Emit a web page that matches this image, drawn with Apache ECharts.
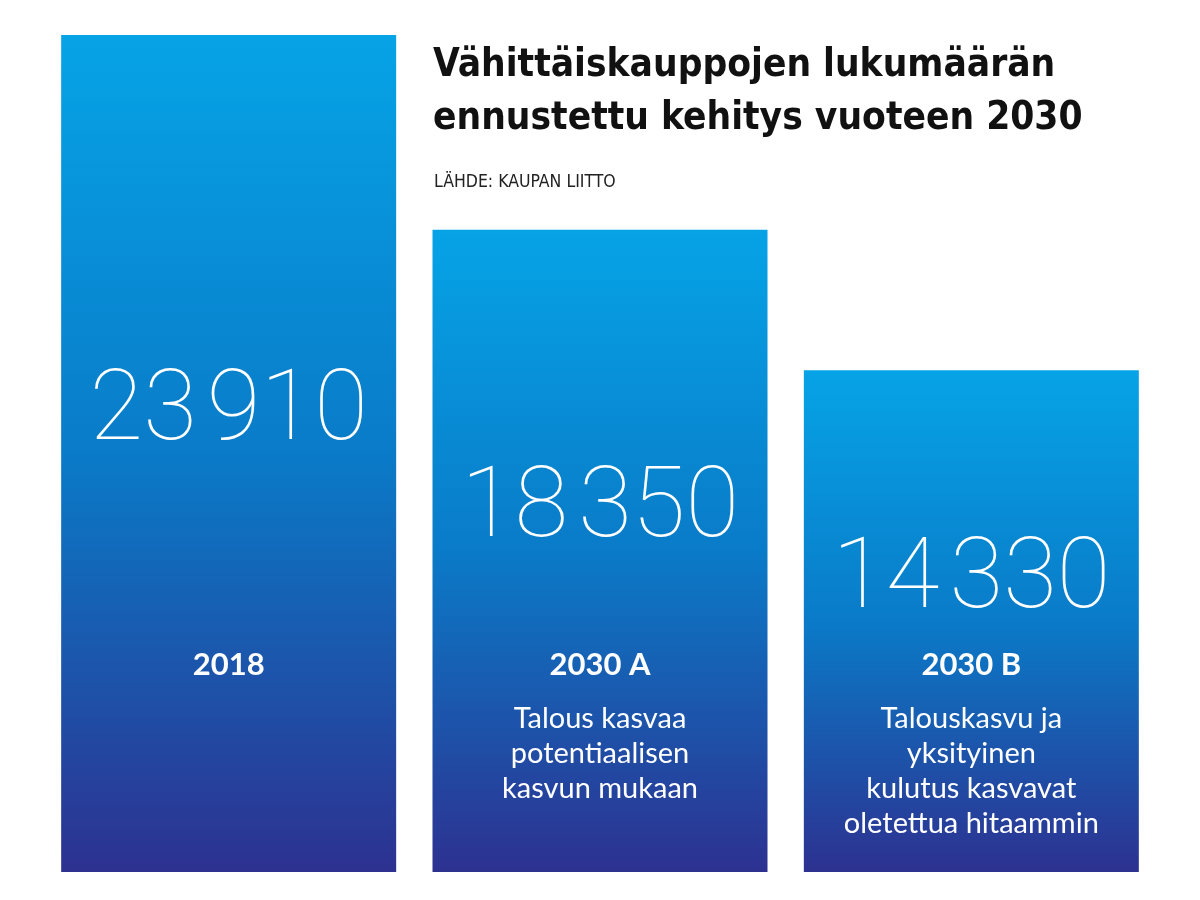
<!DOCTYPE html>
<html><head><meta charset="utf-8">
<script src="https://cdn.jsdelivr.net/npm/echarts@6/dist/echarts.min.js"></script>
<style>html,body{margin:0;padding:0;background:#fff}#c{width:1200px;height:900px}</style>
</head><body><div id="c"></div>
<script>
const categories = ['2018', '2030 A', '2030 B'];
const descriptions = ['', 'Talous kasvaa\npotentiaalisen\nkasvun mukaan', 'Talouskasvu ja\nyksityinen\nkulutus kasvavat\noletettua hitaammin'];
const values = [23910, 18350, 14330];
const titleText = 'Vähittäiskauppojen lukumäärän\nennustettu kehitys vuoteen 2030';
const sourceText = 'LÄHDE: KAUPAN LIITTO';

const labelPos = [['50%', '45.4%'], ['50%', '43.9%'], ['50%', '42.2%']];
function fmt(v) {
  const s = String(v);
  return s.slice(0, s.length - 3) + '\u200A' + s.slice(s.length - 3);
}
const chart = echarts.init(document.getElementById('c'));
chart.setOption({
  animation: false,
  title: [{
    text: titleText,
    left: 428, top: 34,
    textStyle: { fontFamily: 'DejaVu Sans Condensed', fontWeight: 'bold', fontSize: 38.5, lineHeight: 53, color: '#111' }
  }, {
    text: sourceText,
    left: 429, top: 168,
    textStyle: { fontFamily: 'DejaVu Sans Condensed', fontWeight: 'normal', fontSize: 17.5, color: '#222' }
  }],
  grid: { left: 43, right: 43, top: 35, bottom: 28 },
  xAxis: {
    type: 'category', data: categories, z: 10,
    axisLine: { show: false }, axisTick: { show: false },
    axisLabel: {
      margin: -244, verticalAlign: 'top', interval: 0,
      formatter: function (v, i) {
        const d = descriptions[i];
        return '{h|' + v + '}' + (d ? '\n{d|' + d.split('\n').join('}\n{d|') + '}' : '');
      },
      rich: {
        h: { fontFamily: 'Lato', fontWeight: 'bold', fontSize: 31, color: '#fff', lineHeight: 73, align: 'center' },
        d: { fontFamily: 'Lato', fontWeight: 'normal', fontSize: 29, color: '#fff', lineHeight: 35, align: 'center' }
      }
    }
  },
  yAxis: { type: 'value', min: 0, max: 23910, show: false, splitLine: { show: false } },
  series: [{
    type: 'bar', barWidth: 335,
    data: values.map((v, i) => ({
      value: v,
      label: { show: true, position: labelPos[i], align: 'center', verticalAlign: 'middle' }
    })),
    itemStyle: {
      color: new echarts.graphic.LinearGradient(0, 0, 0, 1, [
        { offset: 0, color: '#06a3e6' },
        { offset: 0.5, color: '#0a7bc8' },
        { offset: 1, color: '#2d3190' }
      ])
    },
    label: {
      formatter: p => fmt(p.value),
      fontFamily: 'Roboto', fontWeight: 100, fontSize: 98, color: '#fff'
    }
  }]
});
</script></body></html>
